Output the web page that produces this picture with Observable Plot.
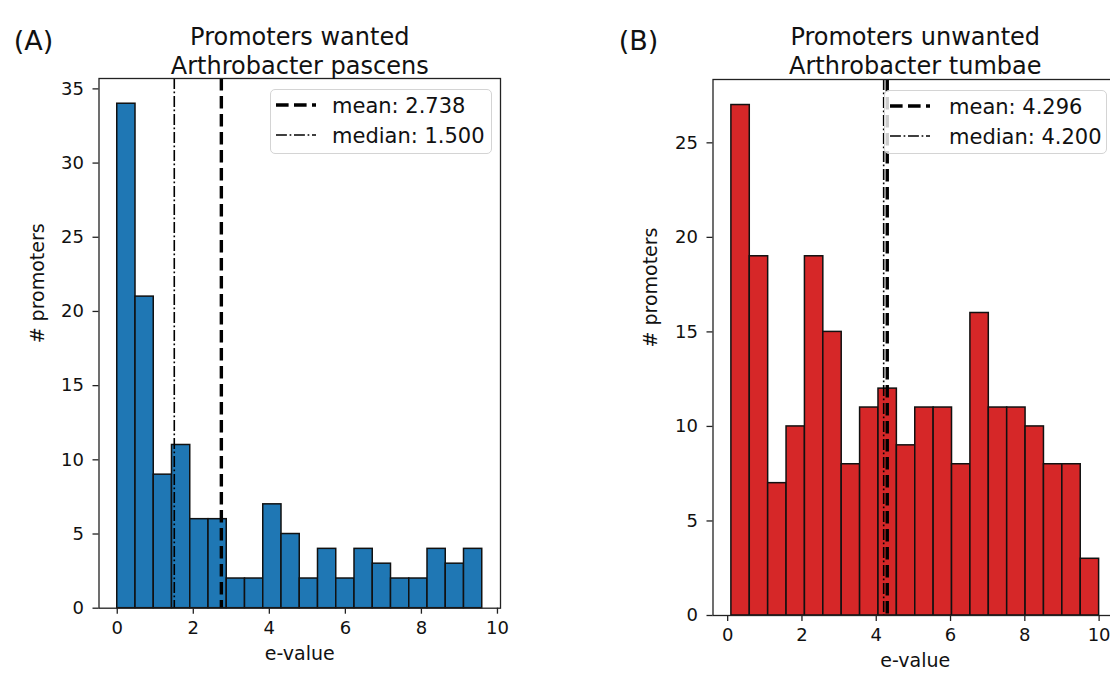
<!DOCTYPE html>
<html>
<head>
<meta charset="utf-8">
<script src="https://cdn.jsdelivr.net/npm/d3@7"></script>
<script src="https://cdn.jsdelivr.net/npm/@observablehq/plot@0.6"></script>
<style>
  html, body { margin: 0; padding: 0; background: #fff; }
  #fig { position: relative; width: 1110px; height: 675px; overflow: hidden; background: #fff; font-family: "DejaVu Sans", sans-serif; }
  .panel { position: absolute; top: 0; }
  .panel svg { max-width: none !important; }
  .legend { position: absolute; box-sizing: border-box; border: 1.3px solid #d4d4d4; border-radius: 5px; background: rgba(255,255,255,0.8); }
  .legend svg { position: absolute; left: 0; top: 0; overflow: visible; }
</style>
</head>
<body>
<div id="fig"></div>
<script>
// ---------- data ----------
const panelLetters = ["(A)", "(B)"];
const titleLines1 = ["Promoters wanted", "Promoters unwanted"];
const titleLines2 = ["Arthrobacter pascens", "Arthrobacter tumbae"];
const xLabel = "e-value";
const yLabel = "# promoters";

// Panel A histogram (20 bins)
const edgesA = [0, 0.48, 0.96, 1.44, 1.92, 2.40, 2.88, 3.36, 3.84, 4.32, 4.80,
                5.28, 5.76, 6.24, 6.72, 7.20, 7.68, 8.16, 8.64, 9.12, 9.60];
const countsA = [34, 21, 9, 11, 6, 6, 2, 2, 7, 5, 2, 4, 2, 4, 3, 2, 2, 4, 3, 4];
const meanA = 2.738;
const medianA = 1.500;

// Panel B histogram (20 bins)
const edgesB = [0.1, 0.595, 1.09, 1.585, 2.08, 2.575, 3.07, 3.565, 4.06, 4.555, 5.05,
                5.545, 6.04, 6.535, 7.03, 7.525, 8.02, 8.515, 9.01, 9.505, 10.0];
const countsB = [27, 19, 7, 10, 19, 15, 8, 11, 12, 9, 11, 11, 8, 16, 11, 11, 10, 8, 8, 3];
const meanB = 4.296;
const medianB = 4.200;

const xTicks = [0, 2, 4, 6, 8, 10];
const yTicksA = [0, 5, 10, 15, 20, 25, 30, 35];
const yTicksB = [0, 5, 10, 15, 20, 25];

// ---------- styles ----------
const colorA = "#1f77b4";
const colorB = "#d62728";
const textColor = "#111";
const meanDash = "12.6,5.4";
const medianDash = "10.9,2.7,1.7,2.7";

function bins(edges, counts) {
  return counts.map((c, i) => ({x1: edges[i], x2: edges[i + 1], y: c}));
}

function panel(opts) {
  const data = bins(opts.edges, opts.counts);
  return Plot.plot({
    width: opts.width,
    height: 675,
    marginLeft: opts.ml,
    marginRight: opts.mr,
    marginTop: opts.mt,
    marginBottom: opts.mb,
    style: {fontFamily: "DejaVu Sans", fontSize: "18px", color: textColor, background: "transparent", overflow: "visible", maxWidth: "none"},
    x: {domain: opts.xDomain},
    y: {domain: opts.yDomain},
    marks: [
      Plot.rectY(data, {x1: "x1", x2: "x2", y: "y", fill: opts.color, stroke: "#111", strokeWidth: 1.5}),
      Plot.ruleX([opts.mean], {stroke: "#000", strokeWidth: 3.4, strokeDasharray: meanDash}),
      Plot.ruleX([opts.median], {stroke: "#000", strokeWidth: 1.6, strokeDasharray: medianDash}),
      Plot.frame({stroke: "#222", strokeWidth: 1.3}),
      Plot.axisX({ticks: xTicks, tickSize: 6, tickPadding: 7, fontSize: 18, label: null, stroke: "#222", strokeWidth: 1.3}),
      Plot.axisY({ticks: opts.yTicks, tickSize: 6, tickPadding: 9, fontSize: 18, label: null, stroke: "#222", strokeWidth: 1.3}),
      Plot.text([xLabel], {frameAnchor: "bottom", dy: opts.xlabDy, fontSize: 19, fill: textColor}),
      Plot.text([yLabel], {frameAnchor: "left", dx: opts.ylabDx, rotate: -90, fontSize: 19, fill: textColor}),
      Plot.text([opts.t1], {frameAnchor: "top", dy: opts.t1Dy, fontSize: 24, fill: textColor}),
      Plot.text([opts.t2], {frameAnchor: "top", dy: opts.t2Dy, fontSize: 24, fill: textColor}),
      Plot.text([opts.letter], {frameAnchor: "top-left", textAnchor: "middle", dx: opts.letDx, dy: opts.letDy, fontSize: 27, fill: textColor})
    ]
  });
}

function legend(left, top, w, h, textX, mean, median) {
  const div = document.createElement("div");
  div.className = "legend";
  div.style.left = left + "px";
  div.style.top = top + "px";
  div.style.width = w + "px";
  div.style.height = h + "px";
  const rows = [
    {label: "mean: " + mean.toFixed(3), sw: 3.4, dash: meanDash, cy: 15},
    {label: "median: " + median.toFixed(3), sw: 1.6, dash: medianDash, cy: 45}
  ];
  const ns = "http://www.w3.org/2000/svg";
  const svg = document.createElementNS(ns, "svg");
  svg.setAttribute("width", w);
  svg.setAttribute("height", h);
  for (const r of rows) {
    const ln = document.createElementNS(ns, "line");
    ln.setAttribute("x1", 5); ln.setAttribute("x2", 45);
    ln.setAttribute("y1", r.cy); ln.setAttribute("y2", r.cy);
    ln.setAttribute("stroke", "#000");
    ln.setAttribute("stroke-width", r.sw);
    ln.setAttribute("stroke-dasharray", r.dash);
    svg.appendChild(ln);
    const tx = document.createElementNS(ns, "text");
    tx.setAttribute("x", textX);
    tx.setAttribute("y", r.cy + 7.5);
    tx.setAttribute("font-family", "DejaVu Sans");
    tx.setAttribute("font-size", 21);
    tx.setAttribute("fill", textColor);
    tx.textContent = r.label;
    svg.appendChild(tx);
  }
  div.appendChild(svg);
  return div;
}

const fig = document.getElementById("fig");

const pA = panel({
  edges: edgesA, counts: countsA, mean: meanA, median: medianA, color: colorA,
  width: 555, ml: 98.5, mr: 55, mt: 78, mb: 67.3,
  xDomain: [-0.48, 10.08], yDomain: [0, 35.7], yTicks: yTicksA,
  xlabDy: 52, ylabDx: -61.5, t1: titleLines1[0], t2: titleLines2[0], t1Dy: -50.7, t2Dy: -22,
  letter: panelLetters[0], letDx: -65.5, letDy: -48
});
const wA = document.createElement("div");
wA.className = "panel"; wA.style.left = "0px"; wA.style.width = "555px";
wA.appendChild(pA);
fig.appendChild(wA);

const pB = panel({
  edges: edgesB, counts: countsB, mean: meanB, median: medianB, color: colorB,
  width: 565, ml: 157.5, mr: 3, mt: 79, mb: 60,
  xDomain: [-0.395, 10.495], yDomain: [0, 28.35], yTicks: yTicksB,
  xlabDy: 51, ylabDx: -62.5, t1: titleLines1[1], t2: titleLines2[1], t1Dy: -51.7, t2Dy: -23,
  letter: panelLetters[1], letDx: -74.5, letDy: -49
});
const wB = document.createElement("div");
wB.className = "panel"; wB.style.left = "555px"; wB.style.width = "565px";
wB.appendChild(pB);
fig.appendChild(wB);

fig.appendChild(legend(270, 89, 222, 65, 61, meanA, medianA));
fig.appendChild(legend(884, 90, 223, 64, 64, meanB, medianB));
</script>
</body>
</html>
